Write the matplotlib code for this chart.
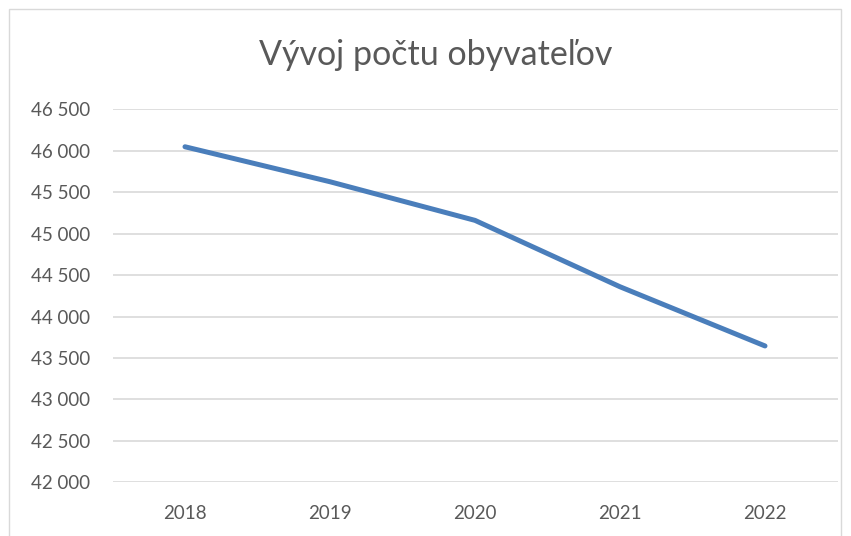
import matplotlib.pyplot as plt
from matplotlib.patches import Rectangle
from matplotlib.ticker import FuncFormatter

# data
years = ["2018", "2019", "2020", "2021", "2022"]
population = [46048, 45626, 45160, 44359, 43645]

plt.rcParams['font.family'] = ['Lato', 'DejaVu Sans']

fig = plt.figure(figsize=(8.51, 5.36), dpi=100)
ax = fig.add_axes([112.5 / 851, 1 - 482.3 / 536, 725 / 851, (482.3 - 109.3) / 536])

x = list(range(len(years)))
ax.plot(x, population, color='#4a7ebb', linewidth=3.6, solid_capstyle='round', solid_joinstyle='round', zorder=3)

ax.set_xlim(-0.5, len(years) - 0.5)
ax.set_ylim(42000, 46500)
ax.set_yticks(range(42000, 46501, 500))
ax.yaxis.set_major_formatter(FuncFormatter(lambda v, p: f"{int(v):,}".replace(",", " ")))
ax.set_xticks(x)
ax.set_xticklabels(years)

ax.grid(axis='y', color='#d9d9d9', linewidth=1.2, zorder=0)
for s in ax.spines.values():
    s.set_visible(False)
ax.tick_params(length=0, labelsize=13.5, colors='#595959')
ax.tick_params(axis='y', pad=16)
ax.tick_params(axis='x', pad=16)

fig.text(436 / 851, 1 - 55 / 536, "Vývoj počtu obyvateľov", ha='center', va='center',
         fontsize=24.5, color='#595959')

# chart border
fig.patches.append(Rectangle((9 / 851, -0.01), 832 / 851, 1 - 9 / 536 + 0.01, transform=fig.transFigure,
                             fill=False, edgecolor='#d9d9d9', linewidth=1))

fig.savefig("out.png", dpi=100)
